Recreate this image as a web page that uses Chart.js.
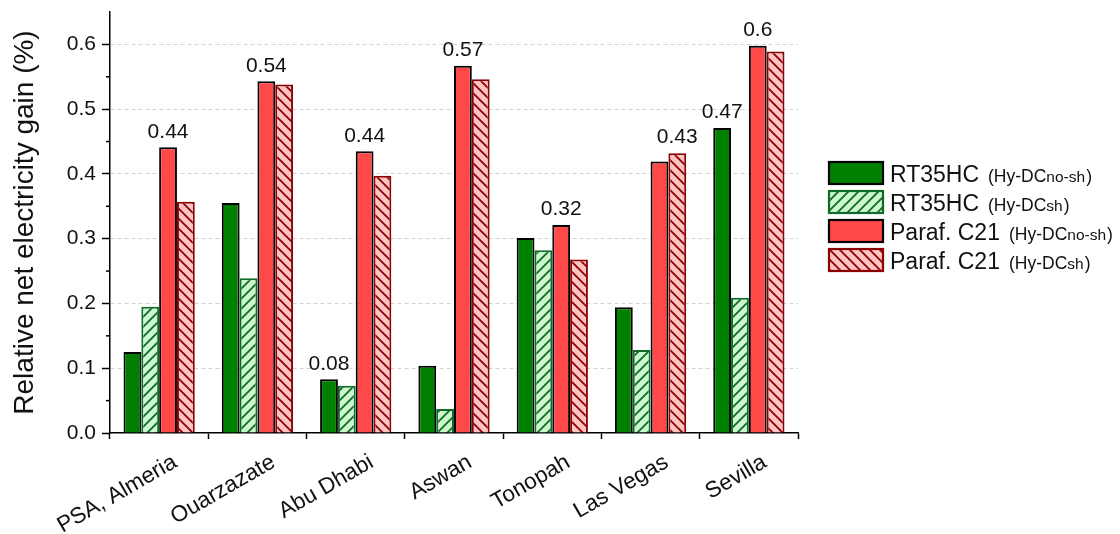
<!DOCTYPE html>
<html>
<head>
<meta charset="utf-8">
<script src="https://cdn.jsdelivr.net/npm/chart.js@4/dist/chart.umd.min.js"></script>
<style>
body{margin:0;background:#fff}
#wrap{width:1120px;height:534px}
</style>
</head>
<body>
<div id="wrap"><canvas id="c" width="1120" height="534"></canvas></div>
<script>
// sites on the x axis
const sites = ["PSA, Almeria","Ouarzazate","Abu Dhabi","Aswan","Tonopah","Las Vegas","Sevilla"]

// relative net electricity gain (%)
const rtNoSh    = [0.125,0.355,0.083,0.104,0.301,0.194,0.471]
const rtSh      = [0.195,0.239,0.073,0.037,0.282,0.128,0.209]
const parNoSh   = [0.441,0.543,0.435,0.567,0.321,0.419,0.598]
const parSh     = [0.357,0.538,0.397,0.546,0.268,0.432,0.589]

// legend text pieces
const legendMain = ["RT35HC","RT35HC","Paraf. C21","Paraf. C21"]
const legendSub  = ["no-sh","sh","no-sh","sh"]

// value labels written above some bars: site index, series index, text
const noteSite = [0,1,2,2,3,4,5,6,6]
const noteSet  = [2,2,0,2,2,2,3,0,2]
const noteText = ["0.44","0.54","0.08","0.44","0.57","0.32","0.43","0.47","0.6"]

const yTickLabels = ["0.0","0.1","0.2","0.3","0.4","0.5","0.6"]

const FONT = "'Liberation Sans', Arial, sans-serif"

function hatch(bg, line, dir){
const s=10
const c=document.createElement("canvas")
c.width=s;c.height=s
const x=c.getContext("2d")
x.fillStyle=bg
x.fillRect(0,0,s,s)
x.strokeStyle=line
x.lineWidth=1.8
x.beginPath()
if(dir>0){
x.moveTo(0,s);x.lineTo(s,0)
x.moveTo(-2,2);x.lineTo(2,-2)
x.moveTo(s-2,s+2);x.lineTo(s+2,s-2)
}else{
x.moveTo(0,0);x.lineTo(s,s)
x.moveTo(-2,s-2);x.lineTo(2,s+2)
x.moveTo(s-2,-2);x.lineTo(s+2,2)
}
x.stroke()
return x.createPattern(c,"repeat")
}

const greenHatch = hatch("#ccf7cc","#0e6b28",1)
const redHatch = hatch("#ffc3c3","#8b0000",-1)

const notesPlugin = {
id:"notes",
afterDatasetsDraw(chart){
const ctx=chart.ctx
ctx.save()
ctx.font="21px "+FONT
ctx.fillStyle="#111"
ctx.textAlign="center"
ctx.textBaseline="bottom"
noteText.forEach((t,i)=>{
const bar=chart.getDatasetMeta(noteSet[i]).data[noteSite[i]]
ctx.fillText(t,bar.x,bar.y-5)
})
ctx.restore()
}
}

const minorTicks = {
id:"minorTicks",
afterDraw(chart){
const y=chart.scales.y
const ctx=chart.ctx
ctx.save()
ctx.strokeStyle="#000"
ctx.lineWidth=1.5
y.ticks.forEach(t=>{
const v=Math.round(t.value*100)
if(v%10!==0 && v<65){
const p=y.getPixelForValue(t.value)
ctx.beginPath()
ctx.moveTo(y.right-4,p)
ctx.lineTo(y.right,p)
ctx.stroke()
}
})
ctx.restore()
}
}

const legendPlugin = {
id:"sideLegend",
afterDraw(chart){
const ctx=chart.ctx
ctx.save()
chart.data.datasets.forEach((ds,i)=>{
const cy=173+i*29
ctx.fillStyle=ds.backgroundColor
ctx.fillRect(829,cy-11,54,22)
ctx.strokeStyle=ds.borderColor
ctx.lineWidth=2.2
ctx.strokeRect(829,cy-11,54,22)
let x=890
const base=cy+9
ctx.fillStyle="#111"
ctx.textBaseline="alphabetic"
ctx.textAlign="left"
ctx.font="23px "+FONT
ctx.fillText(legendMain[i],x,base)
x+=ctx.measureText(legendMain[i]).width+9
ctx.font="17.5px "+FONT
ctx.fillText("(Hy-DC",x,base)
x+=ctx.measureText("(Hy-DC").width
ctx.font="15.5px "+FONT
ctx.fillText(legendSub[i],x,base)
x+=ctx.measureText(legendSub[i]).width+1
ctx.font="17.5px "+FONT
ctx.fillText(")",x,base)
})
ctx.restore()
}
}

new Chart(
document.getElementById("c"),
{
type:"bar",
data:{
labels:sites,
datasets:[
{label:"RT35HC (Hy-DCno-sh)",data:rtNoSh,backgroundColor:"#008000",borderColor:"#000",borderWidth:2},
{label:"RT35HC (Hy-DCsh)",data:rtSh,backgroundColor:greenHatch,borderColor:"#0e6b28",borderWidth:2},
{label:"Paraf. C21 (Hy-DCno-sh)",data:parNoSh,backgroundColor:"#ff4848",borderColor:"#000",borderWidth:2},
{label:"Paraf. C21 (Hy-DCsh)",data:parSh,backgroundColor:redHatch,borderColor:"#8b0000",borderWidth:2}
]
},
options:{
responsive:false,
animation:false,
layout:{padding:{top:12,right:322,left:0,bottom:0}},
datasets:{bar:{categoryPercentage:0.725,barPercentage:1}},
plugins:{legend:{display:false},tooltip:{enabled:false}},
scales:{
x:{
afterFit(s){s.height=101},
grid:{offset:true,drawOnChartArea:false,tickLength:6,tickColor:"#000",tickWidth:1.5},
border:{color:"#000",width:1.5},
ticks:{
color:"#111",
font:{family:FONT,size:22.5},
maxRotation:30,minRotation:30,
labelOffset:16,
padding:10
}
},
y:{
min:0,max:0.65,
afterFit(s){s.width=110;s.paddingTop=0;s.paddingBottom=0},
grid:{
color:c=>{
const v=Math.round(c.tick.value*100)
return (v>0 && v%10===0) ? "#d2d2d2" : "transparent"
},
lineWidth:1,
tickLength:8,
tickColor:c=>Math.round(c.tick.value*100)%10===0 ? "#000" : "transparent",
tickWidth:1.5
},
border:{color:"#000",width:1.5,dash:[4,3]},
ticks:{
stepSize:0.05,
color:"#111",
font:{family:FONT,size:21},
padding:6,
callback:v=>{
const k=Math.round(v*100)
return k%10===0 ? yTickLabels[k/10] : ""
}
},
title:{
display:true,
text:"Relative net electricity gain (%)",
color:"#111",
font:{family:FONT,size:28},
padding:{top:8,bottom:0}
}
}
}
},
plugins:[notesPlugin,minorTicks,legendPlugin]
}
)
</script>
</body>
</html>
